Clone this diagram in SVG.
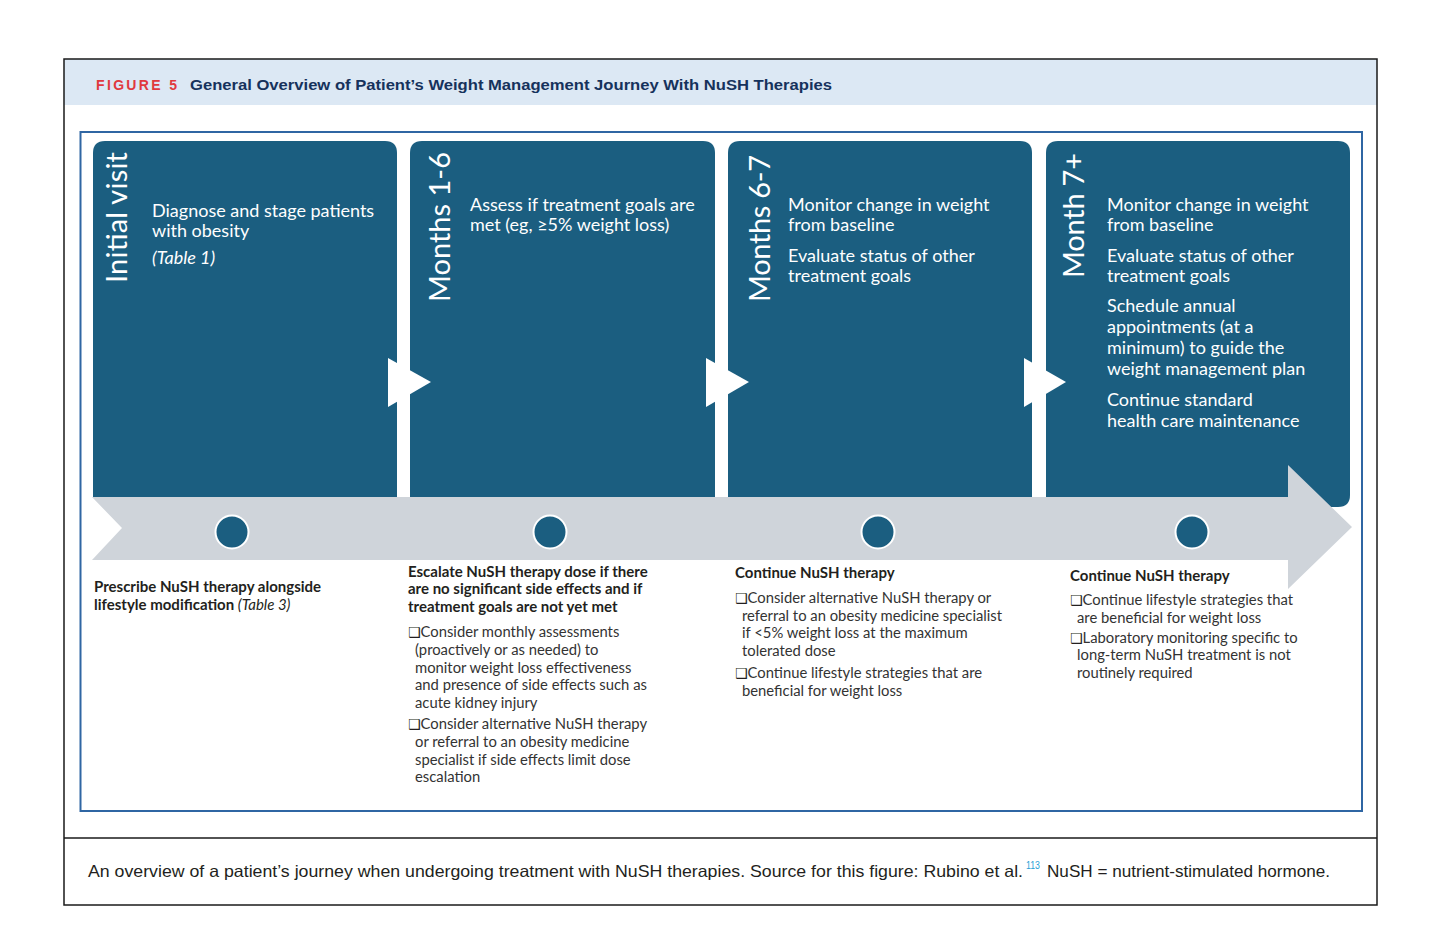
<svg xmlns="http://www.w3.org/2000/svg" width="1440" height="940" viewBox="0 0 1440 940">
<defs>
<style>
.card{fill:#1b5e80;}
.lbl{font-family:Lato,"Liberation Sans",sans-serif;font-weight:normal;font-size:29px;fill:#ffffff;}
.body{font-family:Lato,"Liberation Sans",sans-serif;font-size:18px;fill:#ffffff;}
.bt{font-family:Lato,"Liberation Sans",sans-serif;font-weight:bold;font-size:15px;fill:#231f20;}
.bl{font-family:Lato,"Liberation Sans",sans-serif;font-size:14.8px;fill:#333333;}
.box{font-family:"DejaVu Sans",sans-serif;font-size:14px;fill:#231f20;}
.dot{fill:#1b5e80;stroke:#ffffff;stroke-width:2;}
.tri{fill:#ffffff;}
</style>
</defs>
<rect x="0" y="0" width="1440" height="940" fill="#ffffff"/>
<g id="frame">
<rect x="64" y="59" width="1313" height="46" fill="#dce8f4"/>
<rect x="64" y="59" width="1313" height="846" fill="none" stroke="#1a1a1a" stroke-width="1.5"/>
<line x1="64" y1="838" x2="1377" y2="838" stroke="#1a1a1a" stroke-width="1.5"/>
<rect x="80.5" y="132" width="1281.5" height="679" fill="none" stroke="#2f66a3" stroke-width="2"/>
</g>
<g id="header">
<text x="96" y="90" font-family="'Liberation Sans',sans-serif" font-weight="bold" font-size="14px" fill="#e0393e" textLength="81" lengthAdjust="spacing">FIGURE 5</text>
<text x="190" y="90" font-family="'Liberation Sans',sans-serif" font-weight="bold" font-size="14.5px" fill="#16325c" textLength="642" lengthAdjust="spacingAndGlyphs">General Overview of Patient’s Weight Management Journey With NuSH Therapies</text>
</g>
<g id="card1">
<path class="card" d="M93,497 V153 Q93,141 105,141 H385 Q397,141 397,153 V497 Z"/>
<text class="lbl" transform="translate(127,283) rotate(-90)" textLength="131">Initial visit</text>
<text class="body" x="152" y="217">Diagnose and stage patients</text>
<text class="body" x="152" y="237">with obesity</text>
<text class="body" x="152" y="264" font-style="italic">(Table 1)</text>
</g>
<g id="card2">
<path class="card" d="M410,497 V153 Q410,141 422,141 H703 Q715,141 715,153 V497 Z"/>
<text class="lbl" transform="translate(450,302) rotate(-90)" textLength="150">Months 1-6</text>
<text class="body" x="470" y="211">Assess if treatment goals are</text>
<text class="body" x="470" y="231">met (eg, ≥5% weight loss)</text>
</g>
<g id="card3">
<path class="card" d="M728,497 V153 Q728,141 740,141 H1020 Q1032,141 1032,153 V497 Z"/>
<text class="lbl" transform="translate(770,302) rotate(-90)" textLength="147">Months 6-7</text>
<text class="body" x="788" y="211">Monitor change in weight</text>
<text class="body" x="788" y="231">from baseline</text>
<text class="body" x="788" y="262">Evaluate status of other</text>
<text class="body" x="788" y="282">treatment goals</text>
</g>
<g id="card4">
<path class="card" d="M1046,497 V153 Q1046,141 1058,141 H1338 Q1350,141 1350,153 V495 Q1350,507 1338,507 H1046 Z"/>
<text class="lbl" transform="translate(1084,278) rotate(-90)" textLength="125">Month 7+</text>
<text class="body" x="1107" y="211">Monitor change in weight</text>
<text class="body" x="1107" y="231">from baseline</text>
<text class="body" x="1107" y="262">Evaluate status of other</text>
<text class="body" x="1107" y="282">treatment goals</text>
<text class="body" x="1107" y="312">Schedule annual</text>
<text class="body" x="1107" y="333">appointments (at a</text>
<text class="body" x="1107" y="354">minimum) to guide the</text>
<text class="body" x="1107" y="375">weight management plan</text>
<text class="body" x="1107" y="406">Continue standard</text>
<text class="body" x="1107" y="427">health care maintenance</text>
</g>
<g id="connectors">
<polygon class="tri" points="388,358 431,382 388,407"/>
<polygon class="tri" points="706,358 749,382 706,407"/>
<polygon class="tri" points="1024,358 1066,382 1024,407"/>
<polygon fill="#cfd4da" points="92,497 1288,497 1288,465 1352,527 1288,589 1288,560 92,560 122,528"/>
</g>
<g id="milestones">
<circle class="dot" cx="232" cy="532" r="16.5"/>
<circle class="dot" cx="550" cy="532" r="16.5"/>
<circle class="dot" cx="878" cy="532" r="16.5"/>
<circle class="dot" cx="1192" cy="532" r="16.5"/>
</g>
<g id="note1">
<text class="bt" x="94" y="592">Prescribe NuSH therapy alongside</text>
<text class="bt" x="94" y="610">lifestyle modification <tspan font-weight="normal" font-style="italic">(Table 3)</tspan></text>
</g>
<g id="note2">
<text class="bt" x="408" y="577">Escalate NuSH therapy dose if there</text>
<text class="bt" x="408" y="594">are no significant side effects and if</text>
<text class="bt" x="408" y="612">treatment goals are not yet met</text>
<text class="bl" x="408" y="637"><tspan class="box">❑</tspan>Consider monthly assessments</text>
<text class="bl" x="415" y="655">(proactively or as needed) to</text>
<text class="bl" x="415" y="673">monitor weight loss effectiveness</text>
<text class="bl" x="415" y="690">and presence of side effects such as</text>
<text class="bl" x="415" y="708">acute kidney injury</text>
<text class="bl" x="408" y="729"><tspan class="box">❑</tspan>Consider alternative NuSH therapy</text>
<text class="bl" x="415" y="747">or referral to an obesity medicine</text>
<text class="bl" x="415" y="765">specialist if side effects limit dose</text>
<text class="bl" x="415" y="782">escalation</text>
</g>
<g id="note3">
<text class="bt" x="735" y="578">Continue NuSH therapy</text>
<text class="bl" x="735" y="603"><tspan class="box">❑</tspan>Consider alternative NuSH therapy or</text>
<text class="bl" x="742" y="621">referral to an obesity medicine specialist</text>
<text class="bl" x="742" y="638">if &lt;5% weight loss at the maximum</text>
<text class="bl" x="742" y="656">tolerated dose</text>
<text class="bl" x="735" y="678"><tspan class="box">❑</tspan>Continue lifestyle strategies that are</text>
<text class="bl" x="742" y="696">beneficial for weight loss</text>
</g>
<g id="note4">
<text class="bt" x="1070" y="581">Continue NuSH therapy</text>
<text class="bl" x="1070" y="605"><tspan class="box">❑</tspan>Continue lifestyle strategies that</text>
<text class="bl" x="1077" y="623">are beneficial for weight loss</text>
<text class="bl" x="1070" y="643"><tspan class="box">❑</tspan>Laboratory monitoring specific to</text>
<text class="bl" x="1077" y="660">long-term NuSH treatment is not</text>
<text class="bl" x="1077" y="678">routinely required</text>
</g>
<g id="caption" font-family="'Liberation Sans',sans-serif" font-size="16.5px" fill="#231f20">
<text x="88" y="877" textLength="935" lengthAdjust="spacingAndGlyphs">An overview of a patient’s journey when undergoing treatment with NuSH therapies. Source for this figure: Rubino et al.</text>
<text x="1026" y="869" font-size="10px" fill="#2a9fd6" textLength="14" lengthAdjust="spacingAndGlyphs">113</text>
<text x="1047" y="877" textLength="283" lengthAdjust="spacingAndGlyphs">NuSH = nutrient-stimulated hormone.</text>
</g>
</svg>
